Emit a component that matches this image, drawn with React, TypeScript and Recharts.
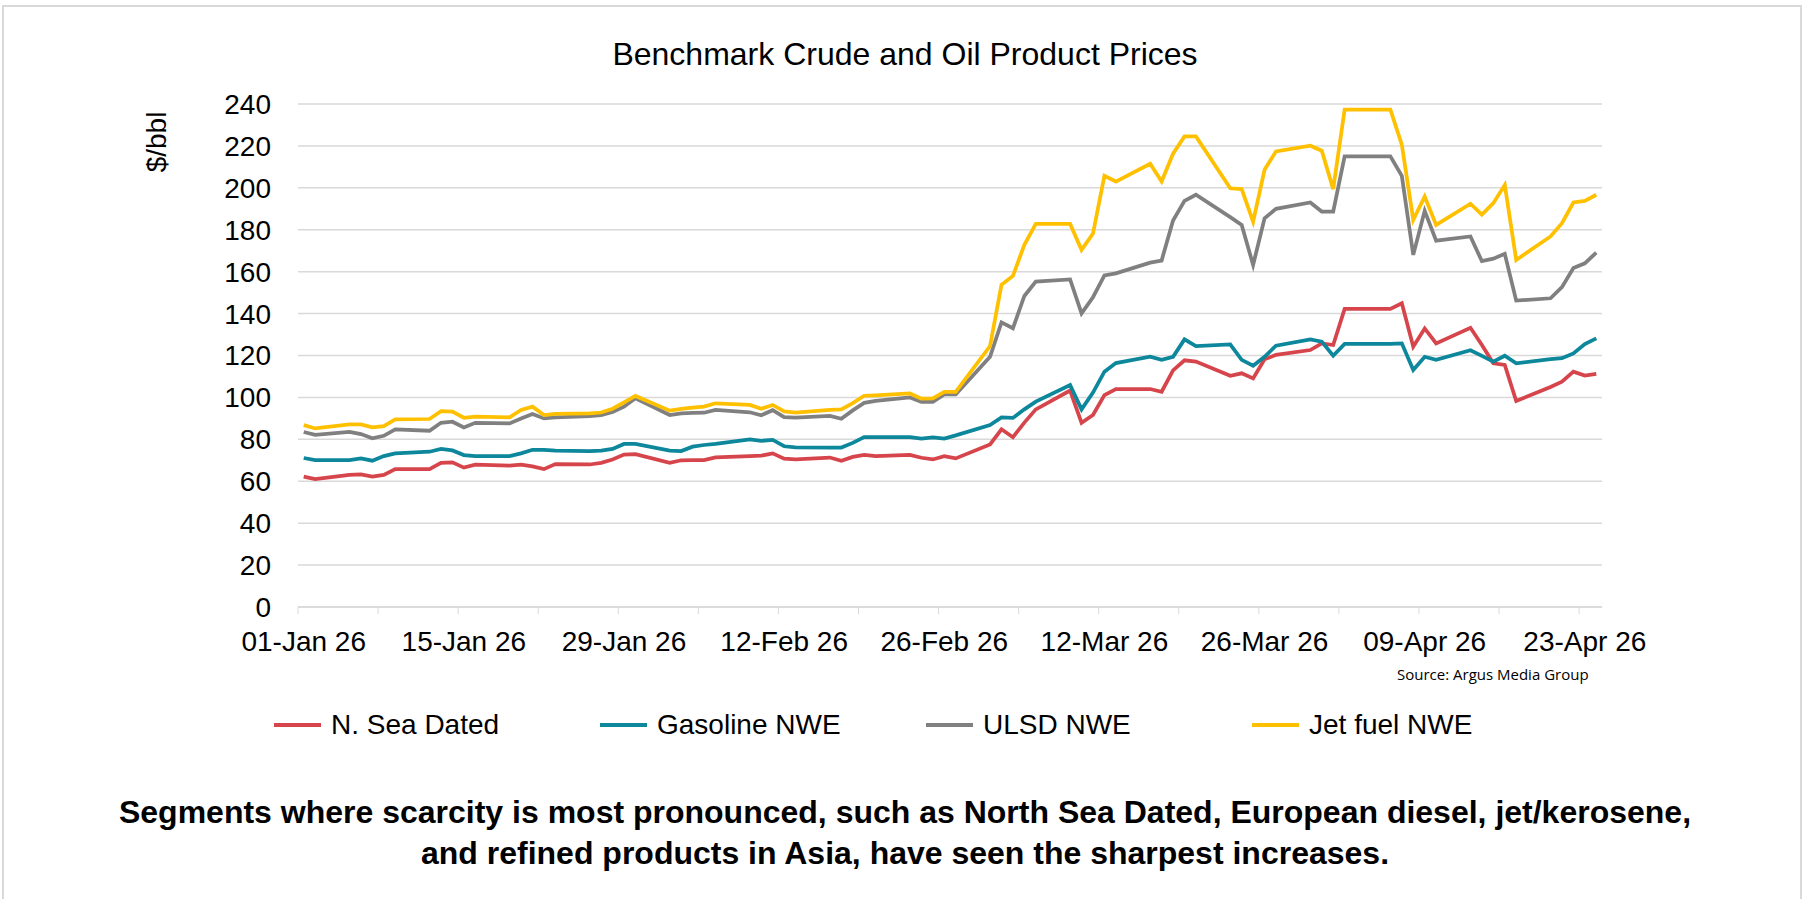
import { CartesianGrid, Line, LineChart, XAxis, YAxis } from 'recharts'

// Weekday price dates (holidays carried flat, weekends joined by the line)
const DATES = [
  '2026-01-01', '2026-01-02',
  '2026-01-05', '2026-01-06', '2026-01-07', '2026-01-08', '2026-01-09',
  '2026-01-12', '2026-01-13', '2026-01-14', '2026-01-15', '2026-01-16',
  '2026-01-19', '2026-01-20', '2026-01-21', '2026-01-22', '2026-01-23',
  '2026-01-26', '2026-01-27', '2026-01-28', '2026-01-29', '2026-01-30',
  '2026-02-02', '2026-02-03', '2026-02-04', '2026-02-05', '2026-02-06',
  '2026-02-09', '2026-02-10', '2026-02-11', '2026-02-12', '2026-02-13',
  '2026-02-16', '2026-02-17', '2026-02-18', '2026-02-19', '2026-02-20',
  '2026-02-23', '2026-02-24', '2026-02-25', '2026-02-26', '2026-02-27',
  '2026-03-02', '2026-03-03', '2026-03-04', '2026-03-05', '2026-03-06',
  '2026-03-09', '2026-03-10', '2026-03-11', '2026-03-12', '2026-03-13',
  '2026-03-16', '2026-03-17', '2026-03-18', '2026-03-19', '2026-03-20',
  '2026-03-23', '2026-03-24', '2026-03-25', '2026-03-26', '2026-03-27',
  '2026-03-30', '2026-03-31', '2026-04-01', '2026-04-02', '2026-04-03',
  '2026-04-06', '2026-04-07', '2026-04-08', '2026-04-09', '2026-04-10',
  '2026-04-13', '2026-04-14', '2026-04-15', '2026-04-16', '2026-04-17',
  '2026-04-20', '2026-04-21', '2026-04-22', '2026-04-23', '2026-04-24',
]

const NSEA_DATED = [
  62.2, 61.0,
  63.0, 63.3, 62.2, 63.0, 65.8,
  65.8, 68.8, 69.0, 66.5, 67.9,
  67.4, 67.9, 67.1, 65.8, 68.2,
  68.0, 68.8, 70.4, 72.7, 72.9,
  68.8, 70.0, 70.1, 70.1, 71.4,
  72.0, 72.2, 73.3, 70.8, 70.4,
  71.3, 69.8, 71.6, 72.6, 72.0,
  72.6, 71.2, 70.4, 72.0, 70.9,
  77.6, 84.8, 81.0, 88.0, 94.3,
  103.3, 87.9, 91.6, 101.1, 104.0,
  104.0, 102.7, 112.9, 117.7, 117.1,
  110.3, 111.5, 109.1, 118.2, 120.3,
  122.6, 125.8, 125.0, 142.2, 142.2,
  142.2, 144.9, 124.2, 132.9, 125.8,
  133.2, 125.0, 116.3, 115.5, 98.3,
  105.0, 107.5, 112.3, 110.4, 111.2,
]

const GASOLINE_NWE = [
  71.1, 70.1,
  70.1, 70.9, 69.8, 72.0, 73.3,
  74.1, 75.4, 74.7, 72.5, 72.0,
  72.0, 73.3, 75.0, 75.0, 74.6,
  74.4, 74.6, 75.4, 77.8, 77.8,
  74.6, 74.4, 76.5, 77.3, 77.8,
  80.0, 79.3, 79.7, 76.7, 76.2,
  76.1, 76.1, 78.3, 81.1, 81.1,
  81.0, 80.4, 80.9, 80.4, 81.9,
  86.8, 90.5, 90.2, 94.3, 98.0,
  105.9, 94.3, 102.3, 112.3, 116.4,
  119.4, 117.9, 119.4, 127.7, 124.5,
  125.3, 117.9, 115.1, 119.4, 124.7,
  127.7, 126.6, 119.9, 125.5, 125.5,
  125.5, 125.8, 113.1, 119.4, 118.0,
  122.5, 119.8, 117.1, 119.9, 116.3,
  118.3, 118.7, 121.0, 125.5, 128.2,
]

const ULSD_NWE = [
  83.5, 82.1,
  83.6, 82.5, 80.5, 81.7, 84.8,
  84.1, 87.9, 88.4, 85.7, 87.9,
  87.6, 89.9, 92.1, 90.0, 90.5,
  91.1, 91.5, 93.0, 95.6, 99.6,
  91.6, 92.4, 92.6, 92.7, 94.0,
  92.9, 91.5, 93.9, 90.6, 90.3,
  91.2, 89.8, 93.8, 97.4, 98.3,
  100.0, 97.9, 97.9, 101.4, 101.4,
  119.4, 135.8, 133.0, 148.4, 155.3,
  156.3, 140.1, 147.8, 158.2, 159.2,
  164.3, 165.3, 184.4, 193.8, 196.7,
  186.0, 182.3, 163.2, 185.5, 190.0,
  193.0, 188.7, 188.7, 215.0, 215.0,
  215.0, 205.7, 168.0, 189.0, 174.8,
  176.8, 165.0, 166.2, 168.5, 146.2,
  147.3, 152.6, 161.7, 164.0, 169.1,
]

const JET_NWE = [
  86.8, 85.2,
  87.1, 87.1, 85.7, 86.3, 89.5,
  89.7, 93.4, 93.2, 90.3, 90.8,
  90.5, 94.0, 95.6, 91.6, 92.1,
  92.4, 92.8, 94.6, 97.6, 100.7,
  93.7, 94.5, 95.1, 95.6, 97.2,
  96.4, 94.6, 96.4, 93.3, 92.7,
  94.0, 94.3, 97.3, 100.8, 101.0,
  101.9, 99.4, 99.5, 102.7, 102.7,
  124.5, 153.7, 158.0, 172.8, 182.8,
  182.8, 170.4, 178.2, 205.7, 203.0,
  211.5, 203.0, 216.3, 224.5, 224.5,
  199.8, 199.4, 183.9, 208.6, 217.4,
  220.1, 217.7, 199.4, 237.3, 237.3,
  237.3, 220.6, 184.7, 195.8, 182.3,
  192.4, 187.2, 192.7, 201.4, 165.6,
  176.8, 183.1, 193.0, 193.8, 196.7,
]

const Y_TICKS = [0, 20, 40, 60, 80, 100, 120, 140, 160, 180, 200, 220, 240]

const SERIES = [
  { key: 'nsea', label: 'N. Sea Dated', color: '#d6454b', values: NSEA_DATED },
  { key: 'gasoline', label: 'Gasoline NWE', color: '#0d879b', values: GASOLINE_NWE },
  { key: 'ulsd', label: 'ULSD NWE', color: '#808080', values: ULSD_NWE },
  { key: 'jet', label: 'Jet fuel NWE', color: '#ffc000', values: JET_NWE },
]

const FONT = '"Liberation Sans", Arial, sans-serif'
const MONTHS = ['Jan', 'Feb', 'Mar', 'Apr', 'May', 'Jun', 'Jul', 'Aug', 'Sep', 'Oct', 'Nov', 'Dec']
const START = Date.UTC(2026, 0, 1)
const DAY_MS = 86400000
const LAST_DAY = 113 // 24-Apr, the last slot on the date axis

// plot box in page pixels
const PLOT_LEFT = 298
const PLOT_RIGHT = 1602
const HALF_SLOT = (PLOT_RIGHT - PLOT_LEFT) / (LAST_DAY + 1) / 2

function dayOf(iso: string): number {
  const [y, m, d] = iso.split('-').map(Number)
  return Math.round((Date.UTC(y, m - 1, d) - START) / DAY_MS)
}

const data = DATES.map((date, i) => {
  const row: Record<string, number | string> = { date, day: dayOf(date) }
  SERIES.forEach((s) => (row[s.key] = s.values[i]))
  return row
})

// Excel-style date axis: tick marks on slot boundaries every week
const X_TICKS: number[] = []
for (let d = 0; d <= LAST_DAY; d += 7) X_TICKS.push(d - 0.5)

function dateLabel(day: number): string {
  const dt = new Date(START + day * DAY_MS)
  const dd = String(dt.getUTCDate()).padStart(2, '0')
  return `${dd}-${MONTHS[dt.getUTCMonth()]} 26`
}

// labels sit in the middle of their day slot, every other week
function DateTick(props: any) {
  const { x, y, payload } = props
  const day = payload.value + 0.5
  if (day % 14 !== 0) return <g />
  return (
    <text x={x + HALF_SLOT} y={y} dy="0.71em" textAnchor="middle" fontSize={28} fontFamily={FONT} fill="#000">
      {dateLabel(day)}
    </text>
  )
}

function ChartLegend() {
  return (
    <div style={{ position: 'absolute', left: 274, top: 707, display: 'flex', fontFamily: FONT, fontSize: 28 }}>
      {SERIES.map((s) => (
        <div key={s.key} style={{ width: 326, display: 'flex', alignItems: 'center', lineHeight: '36px' }}>
          <span style={{ width: 47, height: 4, background: s.color, marginRight: 10 }} />
          {s.label}
        </div>
      ))}
    </div>
  )
}

export default function App() {
  return (
    <div
      style={{
        position: 'absolute',
        left: 0,
        top: 0,
        width: 1810,
        height: 899,
        background: '#fff',
        fontFamily: FONT,
        color: '#000',
      }}
    >
      <div
        style={{
          position: 'absolute',
          left: 2,
          top: 5,
          width: 1800,
          height: 900,
          border: '2px solid #d9d9d9',
          boxSizing: 'border-box',
        }}
      />
      <div style={{ position: 'absolute', left: 0, top: 34, width: 1810, textAlign: 'center', fontSize: 32, lineHeight: '40px' }}>
        Benchmark Crude and Oil Product Prices
      </div>
      <div
        style={{
          position: 'absolute',
          left: 157,
          top: 142,
          fontSize: 28,
          whiteSpace: 'nowrap',
          transform: 'translate(-50%, -50%) rotate(-90deg)',
        }}
      >
        $/bbl
      </div>
      <div style={{ position: 'absolute', left: 0, top: 0 }}>
        <LineChart width={1810} height={700} data={data} margin={{ top: 104, right: 1810 - PLOT_RIGHT, bottom: 33, left: PLOT_LEFT - 80 }}>
          <CartesianGrid stroke="#d9d9d9" strokeWidth={1.5} vertical={false} />
          <XAxis
            dataKey="day"
            type="number"
            domain={[-0.5, LAST_DAY + 0.5]}
            ticks={X_TICKS}
            interval={0}
            height={60}
            tick={<DateTick />}
            tickSize={7}
            tickMargin={17}
            stroke="#d9d9d9"
            tickLine={{ stroke: '#d9d9d9' }}
            axisLine={{ stroke: '#d9d9d9', strokeWidth: 1.5 }}
          />
          <YAxis
            domain={[0, 240]}
            ticks={Y_TICKS}
            interval={0}
            width={80}
            axisLine={false}
            tickLine={false}
            tickSize={0}
            tickMargin={27}
            tick={{ fontSize: 28, fill: '#000', fontFamily: FONT }}
          />
          {SERIES.map((s) => (
            <Line
              key={s.key}
              type="linear"
              dataKey={s.key}
              stroke={s.color}
              strokeWidth={3.75}
              dot={false}
              activeDot={false}
              isAnimationActive={false}
            />
          ))}
        </LineChart>
      </div>
      <div style={{ position: 'absolute', left: 1397, top: 664, fontSize: 15, fontFamily: '"Open Sans", sans-serif' }}>
        Source: Argus Media Group
      </div>
      <ChartLegend />
      <div
        style={{
          position: 'absolute',
          left: 0,
          top: 792,
          width: 1810,
          textAlign: 'center',
          fontSize: 32,
          fontWeight: 'bold',
          lineHeight: '41px',
        }}
      >
        Segments where scarcity is most pronounced, such as North Sea Dated, European diesel, jet/kerosene,
        <br />
        and refined products in Asia, have seen the sharpest increases.
      </div>
    </div>
  )
}
